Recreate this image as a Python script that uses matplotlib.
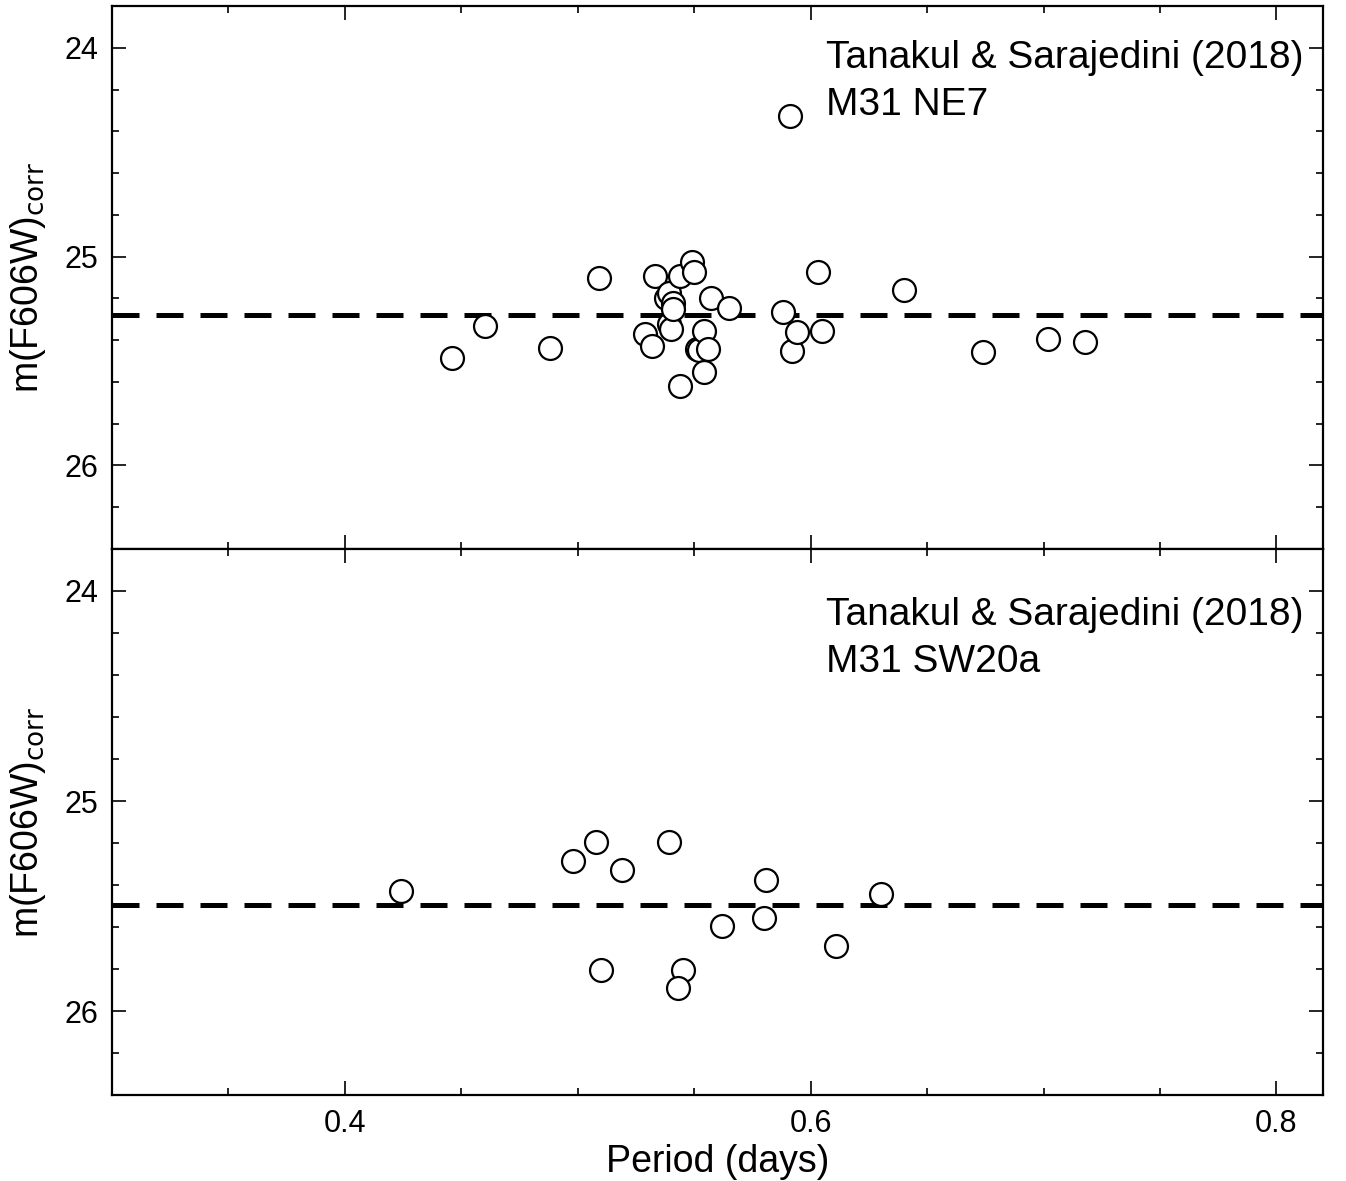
import matplotlib.pyplot as plt
from matplotlib.ticker import MultipleLocator

plt.rcParams['font.family'] = ['Liberation Sans', 'DejaVu Sans']

# NE7 field
ne7_period = [0.446, 0.460, 0.488, 0.509, 0.529, 0.532, 0.533, 0.538, 0.539, 0.539,
              0.540, 0.541, 0.541, 0.544, 0.544, 0.549, 0.550, 0.551, 0.552, 0.554,
              0.554, 0.556, 0.557, 0.565, 0.588, 0.591, 0.592, 0.594, 0.603, 0.605,
              0.640, 0.674, 0.702, 0.718]
ne7_mag = [25.487, 25.334, 25.439, 25.100, 25.372, 25.430, 25.091, 25.200, 25.172, 25.325,
           25.348, 25.220, 25.253, 25.095, 25.621, 25.024, 25.076, 25.444, 25.449, 25.358,
           25.554, 25.444, 25.196, 25.248, 25.267, 24.327, 25.453, 25.363, 25.076, 25.358,
           25.162, 25.458, 25.396, 25.411]
ne7_mean = 25.28

# SW20a field
sw20_period = [0.424, 0.498, 0.508, 0.519, 0.539, 0.510, 0.545, 0.543, 0.562, 0.581,
               0.580, 0.611, 0.630]
sw20_mag = [25.429, 25.286, 25.197, 25.330, 25.197, 25.806, 25.806, 25.889, 25.597, 25.376,
            25.556, 25.690, 25.444]
sw20_mean = 25.495

panels = [
    (ne7_period, ne7_mag, ne7_mean, "Tanakul & Sarajedini (2018)\nM31 NE7"),
    (sw20_period, sw20_mag, sw20_mean, "Tanakul & Sarajedini (2018)\nM31 SW20a"),
]

fig = plt.figure(figsize=(13.46, 11.81), dpi=100)
left, width = 112 / 1346, (1323 - 112) / 1346
rects = [(1 - 549 / 1181, 543 / 1181), (1 - 1095 / 1181, 546 / 1181)]
text_y = [0.938, 0.913]

for i, (per, mag, mean, label) in enumerate(panels):
    ax = fig.add_axes([left, rects[i][0], width, rects[i][1]])
    ax.plot(per, mag, 'o', ms=16.5, mfc='white', mec='black', mew=1.6, ls='none', zorder=3)
    ax.axhline(mean, color='black', lw=3.6, dashes=(5.4, 3.4), zorder=2)
    ax.set_xlim(0.3, 0.82)
    ax.set_ylim(26.4, 23.8)
    ax.xaxis.set_major_locator(MultipleLocator(0.2))
    ax.xaxis.set_minor_locator(MultipleLocator(0.05))
    ax.yaxis.set_major_locator(MultipleLocator(1))
    ax.yaxis.set_minor_locator(MultipleLocator(0.2))
    ax.tick_params(which='both', direction='in', top=True, right=True, width=1.2,
                   labelsize=22, pad=10)
    ax.tick_params(which='major', length=10)
    ax.tick_params(which='minor', length=5)
    for s in ax.spines.values():
        s.set_linewidth(1.6)
    ax.set_ylabel(r"m(F606W)$_{\rm corr}$", fontsize=27, labelpad=12)
    ax.text(0.59, text_y[i], label, transform=ax.transAxes,
            fontsize=28, va='top', ha='left', linespacing=1.42)
    if i == 0:
        ax.tick_params(labelbottom=False)
    else:
        ax.set_xticks([0.4, 0.6, 0.8])
        ax.set_xticklabels(['0.4', '0.6', '0.8'])
        ax.set_xlabel("Period (days)", fontsize=27, labelpad=4)

fig.savefig("out.png", dpi=100)
